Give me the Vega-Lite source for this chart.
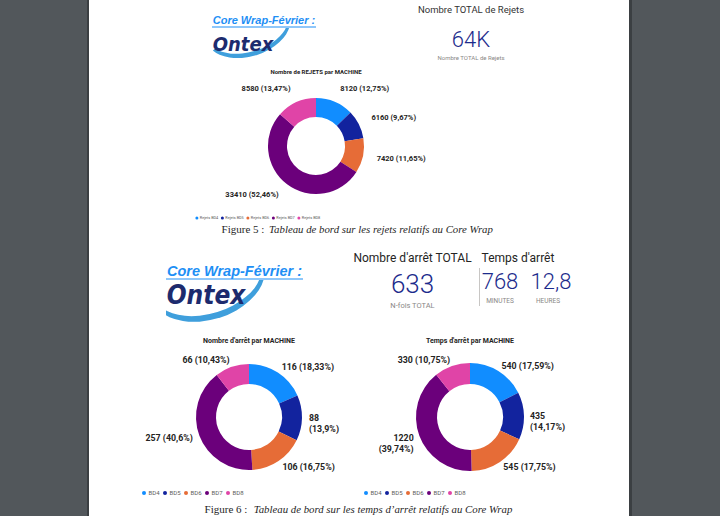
{
"$schema": "https://vega.github.io/schema/vega-lite/v6.json",
"background": "white",
"padding": 0,
"spacing": 0,
"config": {"view": {"stroke": null}},
"resolve": {"scale": {"color": "independent", "theta": "independent"}, "legend": {"color": "independent"}},
"datasets": {
 "rejets": [
  {"machine": "Rejets BD4", "value": 8120, "label": "8120 (12,75%)"},
  {"machine": "Rejets BD5", "value": 6160, "label": "6160 (9,67%)"},
  {"machine": "Rejets BD6", "value": 7420, "label": "7420 (11,65%)"},
  {"machine": "Rejets BD7", "value": 33410, "label": "33410 (52,46%)"},
  {"machine": "Rejets BD8", "value": 8580, "label": "8580 (13,47%)"}
 ],
 "arrets": [
  {"machine": "BD4", "value": 116, "label": "116 (18,33%)"},
  {"machine": "BD5", "value": 88, "label": "88\n(13,9%)"},
  {"machine": "BD6", "value": 106, "label": "106 (16,75%)"},
  {"machine": "BD7", "value": 257, "label": "257 (40,6%)"},
  {"machine": "BD8", "value": 66, "label": "66 (10,43%)"}
 ],
 "temps": [
  {"machine": "BD4", "value": 540, "label": "540 (17,59%)"},
  {"machine": "BD5", "value": 435, "label": "435\n(14,17%)"},
  {"machine": "BD6", "value": 545, "label": "545 (17,75%)"},
  {"machine": "BD7", "value": 1220, "label": "1220\n(39,74%)"},
  {"machine": "BD8", "value": 330, "label": "330 (10,75%)"}
 ]
},
"hconcat": [
 {"width": 87, "height": 516, "view": {"fill": "#52575b", "stroke": null}, "data": {"values": []}, "mark": "point"},
 {"width": 2, "height": 516, "view": {"fill": "#3b3f42", "stroke": null}, "data": {"values": []}, "mark": "point"},
 {"spacing": 0, "resolve": {"scale": {"color": "independent", "theta": "independent"}, "legend": {"color": "independent"}}, "vconcat": [
  {"spacing": 0, "resolve": {"scale": {"color": "independent", "theta": "independent"}, "legend": {"color": "independent"}}, "vconcat": [
   {"spacing": 0, "hconcat": [
    {"width": 122, "height": 68, "data": {"values": []}, "mark": "point"},
    {"spacing": 0, "vconcat": [
     {"width": 104, "height": 15, "data": {"values": []}, "mark": "point"},
     {"width": 104, "height": 12, "data": {"values": [{"t": "Core Wrap-Février :"}]}, "layer": [
      {"mark": {"type": "text", "font": "Liberation Sans", "fontSize": 11, "fontWeight": "bold", "fontStyle": "italic", "color": "#1e8ff5", "baseline": "middle"}, "encoding": {"text": {"field": "t"}}},
      {"mark": {"type": "rule", "color": "#1e8ff5", "strokeWidth": 1}, "encoding": {"y": {"datum": 0, "type": "quantitative", "scale": {"domain": [0, 1]}, "axis": null}}}
     ]},
     {"width": 86, "height": 41, "data": {"values": [{"t": "Ontex"}]}, "layer": [
      {"mark": {"type": "text", "text": ")", "font": "Roboto", "fontWeight": 300, "fontSize": 78, "angle": 73, "align": "center", "baseline": "middle", "color": "#3f9fdc", "clip": true}, "encoding": {}},
      {"mark": {"type": "text", "font": "Liberation Sans Narrow, DejaVu Sans Condensed, sans-serif", "fontSize": 20, "fontWeight": "bold", "fontStyle": "italic", "color": "#1d2b6e", "baseline": "middle", "dx": -12, "dy": -4}, "encoding": {"text": {"field": "t"}}}
     ]}
    ]},
    {"width": 99, "height": 68, "data": {"values": []}, "mark": "point"},
    {"spacing": 0, "vconcat": [
     {"width": 110, "height": 5, "data": {"values": []}, "mark": "point"},
     {"width": 110, "height": 10, "data": {"values": [{"t": "Nombre TOTAL de Rejets"}]}, "mark": {"type": "text", "font": "Roboto", "fontSize": 9.5, "color": "#333333", "baseline": "middle"}, "encoding": {"text": {"field": "t"}}},
     {"width": 110, "height": 14, "data": {"values": []}, "mark": "point"},
     {"width": 110, "height": 22, "data": {"values": [{"t": "64K"}]}, "mark": {"type": "text", "font": "Roboto", "fontSize": 22, "fontWeight": 300, "color": "#1c2b8c", "baseline": "middle"}, "encoding": {"text": {"field": "t"}}},
     {"width": 110, "height": 4, "data": {"values": []}, "mark": "point"},
     {"width": 110, "height": 6, "data": {"values": [{"t": "Nombre TOTAL de Rejets"}]}, "mark": {"type": "text", "font": "Roboto", "fontSize": 6, "color": "#8a8886", "baseline": "middle"}, "encoding": {"text": {"field": "t"}}},
     {"width": 110, "height": 7, "data": {"values": []}, "mark": "point"}
    ]},
    {"width": 103, "height": 68, "data": {"values": []}, "mark": "point"}
   ]},
   {"spacing": 0, "resolve": {"scale": {"color": "independent", "theta": "independent"}, "legend": {"color": "independent"}}, "hconcat": [
    {"width": 103, "height": 154, "data": {"values": []}, "mark": "point"},
    {"width": 248, "height": 154, "data": {"name": "rejets"},
     "title": {"text": "Nombre de REJETS par MACHINE", "font": "Roboto", "fontSize": 6, "fontWeight": "bold", "color": "#252423", "offset": -6, "anchor": "middle"},
     "encoding": {
      "theta": {"field": "value", "type": "quantitative", "stack": true},
      "order": {"field": "machine", "sort": "ascending"},
      "color": {"field": "machine", "type": "nominal",
       "scale": {"domain": ["Rejets BD4", "Rejets BD5", "Rejets BD6", "Rejets BD7", "Rejets BD8"], "range": ["#118DFF", "#12239E", "#E66C37", "#6B007B", "#E044A7"]},
       "legend": {"orient": "bottom-left", "direction": "horizontal", "title": null, "offset": 3, "padding": 0, "symbolType": "circle", "symbolSize": 9, "symbolStrokeWidth": 0, "labelFont": "Roboto", "labelFontSize": 3.8, "labelColor": "#605e5c", "labelOffset": 1, "columnPadding": 1.5}}
     },
     "layer": [
      {"mark": {"type": "arc", "outerRadius": 48, "innerRadius": 29}},
      {"mark": {"type": "text", "radius": 62, "align": "left", "baseline": "middle", "font": "Roboto", "fontSize": 7.5, "fontWeight": "bold", "lineBreak": "\n"},
       "encoding": {"color": {"value": "#252423"}, "text": {"field": "label", "type": "nominal", "condition": {"test": "indexof(['Rejets BD7','Rejets BD8'], datum.machine) >= 0", "value": ""}}}},
      {"mark": {"type": "text", "radius": 62, "align": "right", "baseline": "middle", "font": "Roboto", "fontSize": 7.5, "fontWeight": "bold", "lineBreak": "\n"},
       "encoding": {"color": {"value": "#252423"}, "text": {"field": "label", "type": "nominal", "condition": {"test": "indexof(['Rejets BD7','Rejets BD8'], datum.machine) < 0", "value": ""}}}}
     ]},
    {"width": 187, "height": 154, "data": {"values": []}, "mark": "point"}
   ]},
   {"spacing": 0, "hconcat": [
    {"width": 132, "height": 14, "data": {"values": []}, "mark": "point"},
    {"width": 44, "height": 14, "data": {"values": [{"t": "Figure 5 :"}]}, "mark": {"type": "text", "baseline": "middle", "font": "Liberation Serif", "fontSize": 11, "color": "#1f1f1f"}, "encoding": {"text": {"field": "t"}}},
    {"width": 232, "height": 14, "data": {"values": [{"t": "Tableau de bord sur les rejets relatifs au Core Wrap"}]}, "mark": {"type": "text", "baseline": "middle", "font": "Liberation Serif", "fontSize": 10.8, "fontStyle": "italic", "color": "#1f1f1f"}, "encoding": {"text": {"field": "t"}}},
    {"width": 130, "height": 14, "data": {"values": []}, "mark": "point"}
   ]},
   {"width": 538, "height": 8, "data": {"values": []}, "mark": "point"}
  ]},
  {"spacing": 0, "resolve": {"scale": {"color": "independent", "theta": "independent"}, "legend": {"color": "independent"}}, "vconcat": [
   {"spacing": 0, "hconcat": [
    {"width": 76, "height": 90, "data": {"values": []}, "mark": "point"},
    {"spacing": 0, "vconcat": [
     {"width": 137, "height": 18, "data": {"values": []}, "mark": "point"},
     {"width": 137, "height": 15, "data": {"values": [{"t": "Core Wrap-Février :"}]}, "layer": [
      {"mark": {"type": "text", "font": "Liberation Sans", "fontSize": 14.5, "fontWeight": "bold", "fontStyle": "italic", "color": "#1e8ff5", "baseline": "middle"}, "encoding": {"text": {"field": "t"}}},
      {"mark": {"type": "rule", "color": "#1e8ff5", "strokeWidth": 1.2}, "encoding": {"y": {"datum": 0, "type": "quantitative", "scale": {"domain": [0, 1]}, "axis": null}}}
     ]},
     {"width": 104, "height": 57, "data": {"values": [{"t": "Ontex"}]}, "layer": [
      {"mark": {"type": "text", "text": ")", "font": "Roboto", "fontWeight": 300, "fontSize": 105, "angle": 73, "align": "center", "baseline": "middle", "color": "#3f9fdc", "clip": true}, "encoding": {}},
      {"mark": {"type": "text", "font": "Liberation Sans Narrow, DejaVu Sans Condensed, sans-serif", "fontSize": 26, "fontWeight": "bold", "fontStyle": "italic", "color": "#1d2b6e", "baseline": "middle", "dx": -12, "dy": -12.5}, "encoding": {"text": {"field": "t"}}}
     ]}
    ]},
    {"width": 46, "height": 90, "data": {"values": []}, "mark": "point"},
    {"spacing": 0, "vconcat": [
     {"width": 125, "height": 7, "data": {"values": []}, "mark": "point"},
     {"width": 125, "height": 12, "data": {"values": [{"t": "Nombre d'arrêt TOTAL"}]}, "mark": {"type": "text", "font": "Roboto", "fontSize": 12, "color": "#252423", "baseline": "middle"}, "encoding": {"text": {"field": "t"}}},
     {"width": 125, "height": 8, "data": {"values": []}, "mark": "point"},
     {"width": 125, "height": 26, "data": {"values": [{"t": "633"}]}, "mark": {"type": "text", "font": "Roboto", "fontSize": 26, "fontWeight": 300, "color": "#1c2b8c", "baseline": "middle"}, "encoding": {"text": {"field": "t"}}},
     {"width": 125, "height": 4, "data": {"values": []}, "mark": "point"},
     {"width": 125, "height": 8, "data": {"values": [{"t": "N-fois TOTAL"}]}, "mark": {"type": "text", "font": "Roboto", "fontSize": 7.5, "color": "#8a8886", "baseline": "middle"}, "encoding": {"text": {"field": "t"}}},
     {"width": 125, "height": 25, "data": {"values": []}, "mark": "point"}
    ]},
    {"width": 4, "height": 90, "data": {"values": []}, "mark": "point"},
    {"spacing": 0, "vconcat": [
     {"width": 1, "height": 23, "data": {"values": []}, "mark": "point"},
     {"width": 1, "height": 38, "view": {"fill": "#c8c6c4", "stroke": null}, "data": {"values": []}, "mark": "point"},
     {"width": 1, "height": 29, "data": {"values": []}, "mark": "point"}
    ]},
    {"spacing": 0, "vconcat": [
     {"width": 102, "height": 7, "data": {"values": []}, "mark": "point"},
     {"width": 76, "height": 12, "data": {"values": [{"t": "Temps d'arrêt"}]}, "mark": {"type": "text", "font": "Roboto", "fontSize": 12, "color": "#252423", "baseline": "middle"}, "encoding": {"text": {"field": "t"}}},
     {"width": 102, "height": 7, "data": {"values": []}, "mark": "point"},
     {"spacing": 0, "hconcat": [
      {"width": 40, "height": 22, "data": {"values": [{"t": "768"}]}, "mark": {"type": "text", "font": "Roboto", "fontSize": 22, "fontWeight": 300, "color": "#1c2b8c", "baseline": "middle"}, "encoding": {"text": {"field": "t"}}},
      {"width": 62, "height": 22, "data": {"values": [{"t": "12,8"}]}, "mark": {"type": "text", "font": "Roboto", "fontSize": 22, "fontWeight": 300, "color": "#1c2b8c", "baseline": "middle"}, "encoding": {"text": {"field": "t"}}}
     ]},
     {"width": 102, "height": 4, "data": {"values": []}, "mark": "point"},
     {"spacing": 0, "hconcat": [
      {"width": 40, "height": 7, "data": {"values": [{"t": "MINUTES"}]}, "mark": {"type": "text", "font": "Roboto", "fontSize": 6.5, "color": "#8a8886", "baseline": "middle"}, "encoding": {"text": {"field": "t"}}},
      {"width": 56, "height": 7, "data": {"values": [{"t": "HEURES"}]}, "mark": {"type": "text", "font": "Roboto", "fontSize": 6.5, "color": "#8a8886", "baseline": "middle"}, "encoding": {"text": {"field": "t"}}}
     ]},
     {"width": 102, "height": 31, "data": {"values": []}, "mark": "point"}
    ]},
    {"width": 47, "height": 90, "data": {"values": []}, "mark": "point"}
   ]},
   {"spacing": 0, "resolve": {"scale": {"color": "independent", "theta": "independent"}, "legend": {"color": "independent"}}, "hconcat": [
    {"width": 51, "height": 160, "data": {"values": []}, "mark": "point"},
    {"width": 218, "height": 160, "data": {"name": "arrets"},
     "title": {"text": "Nombre d'arrêt par MACHINE", "font": "Roboto", "fontSize": 7, "fontWeight": "bold", "color": "#252423", "offset": -7, "anchor": "middle"},
     "encoding": {
      "theta": {"field": "value", "type": "quantitative", "stack": true},
      "order": {"field": "machine", "sort": "ascending"},
      "color": {"field": "machine", "type": "nominal",
       "scale": {"domain": ["BD4", "BD5", "BD6", "BD7", "BD8"], "range": ["#118DFF", "#12239E", "#E66C37", "#6B007B", "#E044A7"]},
       "legend": {"orient": "bottom-left", "direction": "horizontal", "title": null, "offset": 1, "padding": 0, "symbolType": "circle", "symbolSize": 16, "symbolStrokeWidth": 0, "labelFont": "Roboto", "labelFontSize": 6, "labelColor": "#605e5c", "labelOffset": 1.5, "columnPadding": 2}}
     },
     "layer": [
      {"mark": {"type": "arc", "outerRadius": 53, "innerRadius": 33}},
      {"mark": {"type": "text", "radius": 60, "align": "left", "baseline": "middle", "font": "Roboto", "fontSize": 8.8, "fontWeight": "bold", "lineBreak": "\n"},
       "encoding": {"color": {"value": "#252423"}, "text": {"field": "label", "type": "nominal", "condition": {"test": "indexof(['BD7','BD8'], datum.machine) >= 0", "value": ""}}}},
      {"mark": {"type": "text", "radius": 60, "align": "right", "baseline": "middle", "font": "Roboto", "fontSize": 8.8, "fontWeight": "bold", "lineBreak": "\n"},
       "encoding": {"color": {"value": "#252423"}, "text": {"field": "label", "type": "nominal", "condition": {"test": "indexof(['BD7','BD8'], datum.machine) < 0", "value": ""}}}}
     ]},
    {"width": 4, "height": 160, "data": {"values": []}, "mark": "point"},
    {"width": 216, "height": 160, "data": {"name": "temps"},
     "title": {"text": "Temps d'arrêt par MACHINE", "font": "Roboto", "fontSize": 7, "fontWeight": "bold", "color": "#252423", "offset": -7, "anchor": "middle"},
     "encoding": {
      "theta": {"field": "value", "type": "quantitative", "stack": true},
      "order": {"field": "machine", "sort": "ascending"},
      "color": {"field": "machine", "type": "nominal",
       "scale": {"domain": ["BD4", "BD5", "BD6", "BD7", "BD8"], "range": ["#118DFF", "#12239E", "#E66C37", "#6B007B", "#E044A7"]},
       "legend": {"orient": "bottom-left", "direction": "horizontal", "title": null, "offset": 1, "padding": 0, "symbolType": "circle", "symbolSize": 16, "symbolStrokeWidth": 0, "labelFont": "Roboto", "labelFontSize": 6, "labelColor": "#605e5c", "labelOffset": 1.5, "columnPadding": 2}}
     },
     "layer": [
      {"mark": {"type": "arc", "outerRadius": 54, "innerRadius": 33}},
      {"mark": {"type": "text", "radius": 60, "align": "left", "baseline": "middle", "font": "Roboto", "fontSize": 8.8, "fontWeight": "bold", "lineBreak": "\n"},
       "encoding": {"color": {"value": "#252423"}, "text": {"field": "label", "type": "nominal", "condition": {"test": "indexof(['BD7','BD8'], datum.machine) >= 0", "value": ""}}}},
      {"mark": {"type": "text", "radius": 60, "align": "right", "baseline": "middle", "font": "Roboto", "fontSize": 8.8, "fontWeight": "bold", "lineBreak": "\n"},
       "encoding": {"color": {"value": "#252423"}, "text": {"field": "label", "type": "nominal", "condition": {"test": "indexof(['BD7','BD8'], datum.machine) < 0", "value": ""}}}}
     ]},
    {"width": 49, "height": 160, "data": {"values": []}, "mark": "point"}
   ]},
   {"spacing": 0, "vconcat": [
    {"width": 538, "height": 4, "data": {"values": []}, "mark": "point"},
    {"spacing": 0, "hconcat": [
     {"width": 115, "height": 18, "data": {"values": []}, "mark": "point"},
     {"width": 44, "height": 18, "data": {"values": [{"t": "Figure 6 :"}]}, "mark": {"type": "text", "baseline": "middle", "font": "Liberation Serif", "fontSize": 11, "color": "#1f1f1f"}, "encoding": {"text": {"field": "t"}}},
     {"width": 2, "height": 18, "data": {"values": []}, "mark": "point"},
     {"width": 266, "height": 18, "data": {"values": [{"t": "Tableau de bord sur les temps d’arrêt relatifs au Core Wrap"}]}, "mark": {"type": "text", "baseline": "middle", "font": "Liberation Serif", "fontSize": 10.8, "fontStyle": "italic", "color": "#1f1f1f"}, "encoding": {"text": {"field": "t"}}},
     {"width": 111, "height": 18, "data": {"values": []}, "mark": "point"}
    ]}
   ]}
  ]}
 ]},
 {"width": 3, "height": 516, "view": {"fill": "#3b3f42", "stroke": null}, "data": {"values": []}, "mark": "point"},
 {"width": 90, "height": 516, "view": {"fill": "#52575b", "stroke": null}, "data": {"values": []}, "mark": "point"}
]
}
